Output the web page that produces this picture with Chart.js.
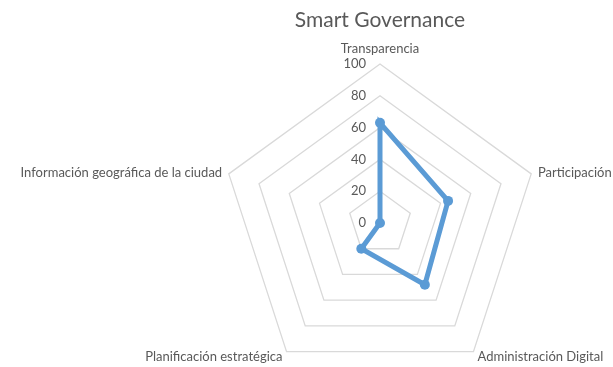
<!DOCTYPE html>
<html>
<head>
<meta charset="utf-8">
<script src="https://cdn.jsdelivr.net/npm/chart.js@4"></script>
<style>
  html, body { margin: 0; padding: 0; background: #fff; }
  #wrap { width: 613px; height: 367px; }
</style>
</head>
<body>
<div id="wrap"><canvas id="myChart" width="613" height="367"></canvas></div>
<script>
var titulo = 'Smart Governance';
var ejes = ['Transparencia', 'Participación', 'Administración Digital', 'Planificación estratégica', 'Información geográfica de la ciudad'];
var valores = [63, 45, 48, 20, 0];
var marcas = [0, 20, 40, 60, 80, 100];

var gris = '#595959';
var fuente = 'Lato, "Open Sans", sans-serif';

// centro y radio fijos del radar (el ajuste automatico lo encoge demasiado)
var centroX = 380, centroY = 223, radio = 159;

// titulo y etiquetas de la escala, a la izquierda del eje vertical
var textos = {
	id: 'textos',
	afterDraw: (chart) => {
		var r = chart.scales.r;
		var ctx = chart.ctx;
		ctx.save();
		ctx.fillStyle = gris;
		ctx.textAlign = 'center';
		ctx.textBaseline = 'middle';
		ctx.font = '21px ' + fuente;
		ctx.fillText(titulo, r.xCenter, 20);
		ctx.font = '13px ' + fuente;
		ctx.textAlign = 'right';
		marcas.forEach((m) => {
			var d = r.getDistanceFromCenterForValue(m);
			ctx.fillText(String(m), r.xCenter - 14, r.yCenter - d);
		});
		ctx.restore();
	}
};

var ctx = document.getElementById('myChart').getContext('2d');
var chart = new Chart(ctx, {
	type: 'radar',
	data: {
		labels: ejes,
		datasets: [{
			data: valores,
			borderColor: '#5b9bd5',
			backgroundColor: '#5b9bd5',
			borderWidth: 5,
			pointRadius: 5,
			pointBackgroundColor: '#5b9bd5',
			pointBorderWidth: 0,
			fill: false
		}]
	},
	options: {
		responsive: false,
		animation: false,
		plugins: {
			legend: { display: false },
			tooltip: { enabled: false }
		},
		scales: {
			r: {
				min: 0,
				max: 100,
				beforeFit: (scale) => {
					scale.setCenterPoint = function() {
						this.xCenter = this.left + centroX;
						this.yCenter = this.top + centroY;
						this.drawingArea = radio;
					};
				},
				afterFit: (scale) => {
					// laterales centradas en el vertice, inferiores un poco mas arriba
					(scale._pointLabelItems || []).forEach((item, i) => {
						var grados = Math.round(scale.getIndexAngle(i) * 180 / Math.PI) % 360;
						var h = item.bottom - item.top;
						var dy = 0;
						if (grados > 0 && grados < 90 || grados > 270) dy = h / 2 + 1;
						else if (grados > 90 && grados < 270) dy = -8;
						item.y += dy;
						item.top += dy;
						item.bottom += dy;
					});
				},
				ticks: { stepSize: 20, display: false },
				grid: { color: '#d9d9d9', lineWidth: 1.3 },
				angleLines: { display: false },
				pointLabels: {
					color: gris,
					padding: 7,
					font: { family: fuente, size: 13 }
				}
			}
		}
	},
	plugins: [textos]
});
</script>
</body>
</html>
